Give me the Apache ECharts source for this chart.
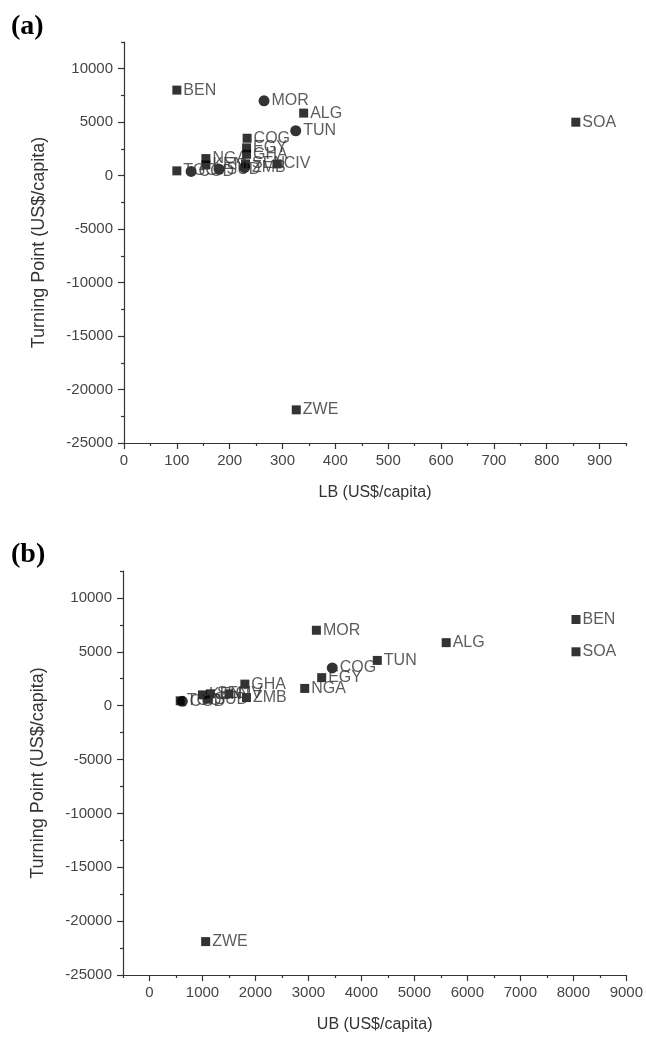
<!DOCTYPE html>
<html><head><meta charset="utf-8">
<script src="https://cdn.jsdelivr.net/npm/echarts@6/dist/echarts.min.js"></script>
<style>html,body{margin:0;padding:0;background:#fff}#c{width:646px;height:1038px}</style>
</head><body><div id="c"></div>
<script>
// ---- data ----
const countries = ['BEN','MOR','ALG','SOA','TUN','COG','EGY','GHA','NGA','CIV','SEN','KEN','SUD','ZMB','TGO','COD','ZWE'];
const turningPoint = [8000, 7000, 5850, 5000, 4200, 3500, 2600, 2000, 1600, 1100, 1100, 1000, 600, 750, 450, 400, -21900];
const lowerBound   = [100, 265, 340, 855, 325, 233, 232, 232, 155, 290, 230, 155, 180, 228, 100, 127, 326];
const upperBound   = [8050, 3150, 5600, 8050, 4300, 3450, 3250, 1800, 2930, 1500, 1150, 1000, 1100, 1830, 580, 620, 1060];
const circlesA = ['MOR','TUN','SUD','ZMB','COD'];
const circlesB = ['COG','COD'];
const yTicks = [-25000,-20000,-15000,-10000,-5000,0,5000,10000];
const yMinor = [-22500,-17500,-12500,-7500,-2500,2500,7500,12500];
const xTicksA = [0,100,200,300,400,500,600,700,800,900];
const xMinorA = [50,150,250,350,450,550,650,750,850,950];
const xTicksB = [0,1000,2000,3000,4000,5000,6000,7000,8000,9000];
const xMinorB = [-500,500,1500,2500,3500,4500,5500,6500,7500,8500];

const FONT = '"Liberation Sans", Arial, sans-serif';
const chart = echarts.init(document.getElementById('c'), null, {renderer:'canvas'});

function pts(xs, circles, wantCircle){
  const out = [];
  countries.forEach((c,i)=>{
    const isC = circles.includes(c);
    if (isC === wantCircle) out.push({name:c, value:[xs[i], turningPoint[i]]});
  });
  return out;
}

const grids = [
  {left:124, top:42, width:502, height:401},
  {left:123, top:571, width:505, height:404}
];
const plain = v => String(v);

function mainX(gi, min, max, ticks, name, gap){
  return {type:'value', gridIndex:gi, min, max, position:'bottom',
    name, nameLocation:'middle', nameGap:gap,
    nameTextStyle:{fontFamily:FONT, fontSize:16, color:'#333'},
    axisLine:{show:true, onZero:false, lineStyle:{color:'#333', width:1.2}},
    axisTick:{show:true, inside:false, length:6, customValues:ticks, lineStyle:{color:'#333', width:1.2}},
    axisLabel:{show:true, customValues:ticks, margin:10, formatter:plain, fontFamily:FONT, fontSize:15, color:'#444'},
    splitLine:{show:false}};
}
function minorX(gi, min, max, ticks){
  return {type:'value', gridIndex:gi, min, max, position:'bottom',
    axisLine:{show:false, onZero:false},
    axisTick:{show:true, length:3, customValues:ticks, lineStyle:{color:'#333', width:1.2}},
    axisLabel:{show:false}, splitLine:{show:false}};
}
function mainY(gi){
  return {type:'value', gridIndex:gi, min:-25000, max:12500, position:'left',
    name:'Turning Point (US$/capita)', nameLocation:'middle', nameGap:76,
    nameTextStyle:{fontFamily:FONT, fontSize:18, color:'#333'},
    axisLine:{show:true, onZero:false, lineStyle:{color:'#333', width:1.2}},
    axisTick:{show:true, length:6, customValues:yTicks, lineStyle:{color:'#333', width:1.2}},
    axisLabel:{show:true, customValues:yTicks, margin:11, formatter:plain, fontFamily:FONT, fontSize:15, color:'#444'},
    splitLine:{show:false}};
}
function minorY(gi){
  return {type:'value', gridIndex:gi, min:-25000, max:12500, position:'left',
    axisLine:{show:false, onZero:false},
    axisTick:{show:true, length:3, customValues:yMinor, lineStyle:{color:'#333', width:1.2}},
    axisLabel:{show:false}, splitLine:{show:false}};
}

const lbl = {show:true, position:'right', distance:2, formatter:'{b}',
  fontFamily:FONT, fontSize:16, color:'#333'};

function ser(xi, yi, data, symbol, size){
  return {type:'scatter', xAxisIndex:xi, yAxisIndex:yi, data, symbol, symbolSize:size,
    itemStyle:{color:'#000'}, label:lbl, labelLayout:{hideOverlap:false}, silent:true, animation:false};
}

chart.setOption({
  animation:false,
  backgroundColor:'#fff',
  title:[
    {text:'(a)', left:6, top:8, textStyle:{fontFamily:'"Liberation Serif", "Times New Roman", serif', fontWeight:'bold', fontSize:28, color:'#000'}},
    {text:'(b)', left:6, top:536, textStyle:{fontFamily:'"Liberation Serif", "Times New Roman", serif', fontWeight:'bold', fontSize:28, color:'#000'}}
  ],
  grid:grids,
  xAxis:[
    mainX(0, 0, 950, xTicksA, 'LB (US$/capita)', 42),
    minorX(0, 0, 950, xMinorA),
    mainX(1, -500, 9000, xTicksB, 'UB (US$/capita)', 42),
    minorX(1, -500, 9000, xMinorB)
  ],
  yAxis:[mainY(0), minorY(0), mainY(1), minorY(1)],
  series:[
    ser(0, 0, pts(lowerBound, circlesA, false), 'rect', 9),
    ser(0, 0, pts(lowerBound, circlesA, true), 'circle', 11),
    ser(2, 2, pts(upperBound, circlesB, false), 'rect', 9),
    ser(2, 2, pts(upperBound, circlesB, true), 'circle', 11)
  ]
});
</script></body></html>
